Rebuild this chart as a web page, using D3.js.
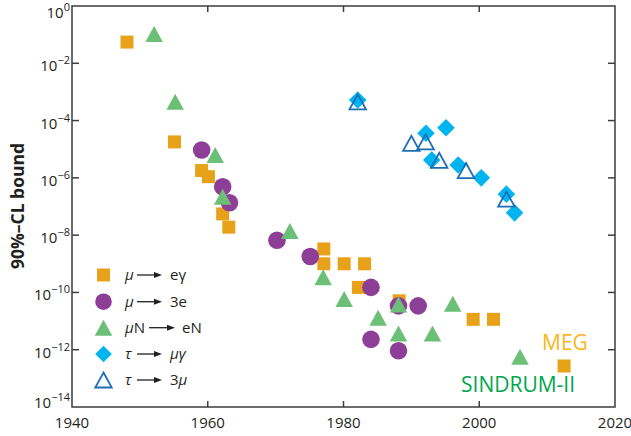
<!doctype html>
<html>
<head>
<meta charset="utf-8"/>
<title>CLFV bounds</title>
<script src="https://d3js.org/d3.v7.min.js"></script>
<style>
body { margin: 0; background: #fff; }
text { font-family: "Open Sans", "Noto Sans", sans-serif; fill: #231f20; }
</style>
</head>
<body>
<script>
// values
var meg_years = [1948.1, 1955.1, 1959.1, 1960.1, 1962.2, 1963.1, 1977.1, 1977.1, 1980.1, 1983.1, 1982.2, 1988.2, 1999.1, 2002.1, 2012.5];
var meg_vals  = [5.5e-2, 1.8e-5, 1.8e-6, 1.1e-6, 5.5e-8, 1.9e-8, 3.3e-9, 1.0e-9, 1.0e-9, 1.0e-9, 1.5e-10, 5.1e-11, 1.15e-11, 1.15e-11, 2.7e-13];

var m3e_years = [1959.1, 1962.2, 1963.2, 1970.2, 1975.1, 1984.05, 1988.1, 1991.0, 1984.05, 1988.1];
var m3e_vals  = [9.4e-6, 4.9e-7, 1.35e-7, 6.6e-9, 1.8e-9, 1.5e-10, 3.4e-11, 3.4e-11, 2.3e-12, 9.2e-13];

var mue_years = [1952.1, 1955.2, 1961.1, 1962.2, 1972.1, 1977.0, 1980.1, 1985.1, 1988.1, 1988.1, 1993.1, 1996.1, 2006.0];
var mue_vals  = [1.05e-1, 4.5e-4, 6.3e-6, 2.2e-7, 1.4e-8, 3.4e-10, 5.9e-11, 1.3e-11, 3.8e-11, 3.7e-12, 3.7e-12, 4.0e-11, 5.7e-13];

var tmg_years = [1982.1, 1992.15, 1995.1, 1993.0, 1996.9, 2000.3, 2004.0, 2005.2];
var tmg_vals  = [5.2e-4, 3.6e-5, 5.6e-5, 4.2e-6, 2.8e-6, 1.0e-6, 2.7e-7, 6.0e-8];

var t3m_years = [1982.1, 1990.0, 1992.1, 1994.1, 1998.05, 2004.0];
var t3m_vals  = [4.5e-4, 1.6e-5, 1.8e-5, 4.1e-6, 1.8e-6, 1.8e-7];

var x_ticks = [1940, 1960, 1980, 2000, 2020];
var y_exps  = [0, -2, -4, -6, -8, -10, -12, -14];

var W = 631, H = 436;
var pL = 72, pR = 615, pT = 6, pB = 407;

var svg = d3.select("body").append("svg")
    .attr("width", W).attr("height", H);

var x = d3.scaleLinear().domain([1940, 2020]).range([pL, pR]);
var y = d3.scaleLog().domain([1e-14, 1]).range([pB, pT]);

var orange = "#e8a21a", purple = "#8d3f97", green = "#6cbf76", cyan = "#00b5ef", blue = "#1d6db5";

function tri(w, h) {
  return "M0," + (-h/2) + "L" + (w/2) + "," + (h/2) + "L" + (-w/2) + "," + (h/2) + "Z";
}
function diamond(r) {
  return "M0," + (-r) + "L" + r + ",0L0," + r + "L" + (-r) + ",0Z";
}

// ---- marks
function pts(years, vals) { return years.map(function(d, i){ return [d, vals[i]]; }); }

svg.append("g").selectAll("rect")
    .data(pts(meg_years, meg_vals)).enter().append("rect")
    .attr("x", function(d){ return x(d[0]) - 6.5; })
    .attr("y", function(d){ return y(d[1]) - 6.5; })
    .attr("width", 13).attr("height", 13)
    .attr("fill", orange);

svg.append("g").selectAll("circle")
    .data(pts(m3e_years, m3e_vals)).enter().append("circle")
    .attr("cx", function(d){ return x(d[0]); })
    .attr("cy", function(d){ return y(d[1]); })
    .attr("r", 8.8)
    .attr("fill", purple);

svg.append("g").selectAll("path")
    .data(pts(mue_years, mue_vals)).enter().append("path")
    .attr("transform", function(d){ return "translate(" + x(d[0]) + "," + y(d[1]) + ")"; })
    .attr("d", tri(17.5, 16))
    .attr("fill", green);

svg.append("g").selectAll("path")
    .data(pts(tmg_years, tmg_vals)).enter().append("path")
    .attr("transform", function(d){ return "translate(" + x(d[0]) + "," + y(d[1]) + ")"; })
    .attr("d", diamond(8.8))
    .attr("fill", cyan);

svg.append("g").selectAll("path")
    .data(pts(t3m_years, t3m_vals)).enter().append("path")
    .attr("transform", function(d){ return "translate(" + x(d[0]) + "," + y(d[1]) + ")"; })
    .attr("d", tri(16.5, 15))
    .attr("fill", "none")
    .attr("stroke", blue)
    .attr("stroke-width", 1.8);

// ---- frame and ticks
var axcol = "#3d3d3d";
svg.append("rect")
    .attr("x", pL).attr("y", pT)
    .attr("width", pR - pL).attr("height", pB - pT)
    .attr("fill", "none").attr("stroke", axcol).attr("stroke-width", 1.5);

var inner_x = x_ticks.slice(1, -1);
var inner_y = y_exps.slice(1, -1);

svg.append("g").selectAll("line")
    .data(inner_x).enter().append("line")
    .attr("x1", function(d){ return x(d); }).attr("x2", function(d){ return x(d); })
    .attr("y1", pB).attr("y2", pB - 6)
    .attr("stroke", axcol).attr("stroke-width", 1.5);
svg.append("g").selectAll("line")
    .data(inner_x).enter().append("line")
    .attr("x1", function(d){ return x(d); }).attr("x2", function(d){ return x(d); })
    .attr("y1", pT).attr("y2", pT + 6)
    .attr("stroke", axcol).attr("stroke-width", 1.5);
svg.append("g").selectAll("line")
    .data(inner_y).enter().append("line")
    .attr("x1", pL).attr("x2", pL + 7)
    .attr("y1", function(d){ return y(Math.pow(10, d)); }).attr("y2", function(d){ return y(Math.pow(10, d)); })
    .attr("stroke", axcol).attr("stroke-width", 1.5);
svg.append("g").selectAll("line")
    .data(inner_y).enter().append("line")
    .attr("x1", pR).attr("x2", pR - 7)
    .attr("y1", function(d){ return y(Math.pow(10, d)); }).attr("y2", function(d){ return y(Math.pow(10, d)); })
    .attr("stroke", axcol).attr("stroke-width", 1.5);

// tick labels
svg.append("g").selectAll("text")
    .data(x_ticks).enter().append("text")
    .attr("x", function(d){ return x(d); })
    .attr("y", 428)
    .attr("text-anchor", "middle")
    .attr("font-size", 15)
    .text(function(d){ return d; });

var yl = svg.append("g").selectAll("text")
    .data(y_exps).enter().append("text")
    .attr("x", 70)
    .attr("y", function(d){ return Math.min(Math.max(y(Math.pow(10, d)) + 8, 18), 408); })
    .attr("text-anchor", "end")
    .attr("font-size", 15);
yl.append("tspan").text("10");
yl.append("tspan").attr("dy", -7).attr("font-size", 11)
    .text(function(d){ return d === 0 ? "0" : "\u2212" + Math.abs(d); });

svg.append("text")
    .attr("transform", "translate(24,206) rotate(-90)")
    .attr("text-anchor", "middle")
    .attr("font-size", 17.5)
    .attr("font-weight", "bold")
    .text("90%\u2013CL bound");

// ---- legend
var legY = [275, 301.7, 327.7, 354, 380];
var legX = 103.5;
var lg = svg.append("g");
lg.append("rect").attr("x", legX - 6.5).attr("y", legY[0] - 6.5).attr("width", 13).attr("height", 13).attr("fill", orange);
lg.append("circle").attr("cx", legX).attr("cy", legY[1]).attr("r", 8.3).attr("fill", purple);
lg.append("path").attr("transform", "translate(" + legX + "," + legY[2] + ")").attr("d", tri(17.5, 16)).attr("fill", green);
lg.append("path").attr("transform", "translate(" + legX + "," + legY[3] + ")").attr("d", diamond(8.3)).attr("fill", cyan);
lg.append("path").attr("transform", "translate(" + legX + "," + legY[4] + ")").attr("d", tri(16.5, 15)).attr("fill", "none").attr("stroke", blue).attr("stroke-width", 1.8);

var legRows = [
  {pre: [["\u03bc", true]], a0: 137, a1: 162, post: [["e\u03b3", false]], px: 170},
  {pre: [["\u03bc", true]], a0: 137, a1: 162, post: [["3e", false]], px: 170},
  {pre: [["\u03bc", true], ["N", false]], a0: 149, a1: 175, post: [["eN", false]], px: 182},
  {pre: [["\u03c4", true]], a0: 137, a1: 162, post: [["\u03bc\u03b3", true]], px: 170},
  {pre: [["\u03c4", true]], a0: 137, a1: 162, post: [["3", false], ["\u03bc", true]], px: 170}
];

legRows.forEach(function(r, i) {
  var cy = legY[i];
  var t = lg.append("text").attr("x", 125).attr("y", cy + 5).attr("font-size", 15);
  r.pre.forEach(function(p){ t.append("tspan").attr("font-style", p[1] ? "italic" : "normal").text(p[0]); });
  lg.append("line").attr("x1", r.a0).attr("x2", r.a1 - 6).attr("y1", cy).attr("y2", cy)
    .attr("stroke", "#231f20").attr("stroke-width", 1.3);
  lg.append("path").attr("d", "M" + r.a1 + "," + cy + "L" + (r.a1 - 8) + "," + (cy - 3) + "L" + (r.a1 - 8) + "," + (cy + 3) + "Z")
    .attr("fill", "#231f20");
  var t2 = lg.append("text").attr("x", r.px).attr("y", cy + 5).attr("font-size", 15);
  r.post.forEach(function(p){ t2.append("tspan").attr("font-style", p[1] ? "italic" : "normal").text(p[0]); });
});

// experiment labels
svg.append("text").attr("x", 542).attr("y", 350).attr("font-size", 21)
    .style("fill", "#fbb616").text("MEG");
svg.append("text").attr("x", 461).attr("y", 392).attr("font-size", 21)
    .style("fill", "#00a650").text("SINDRUM-II");
</script>
</body>
</html>
